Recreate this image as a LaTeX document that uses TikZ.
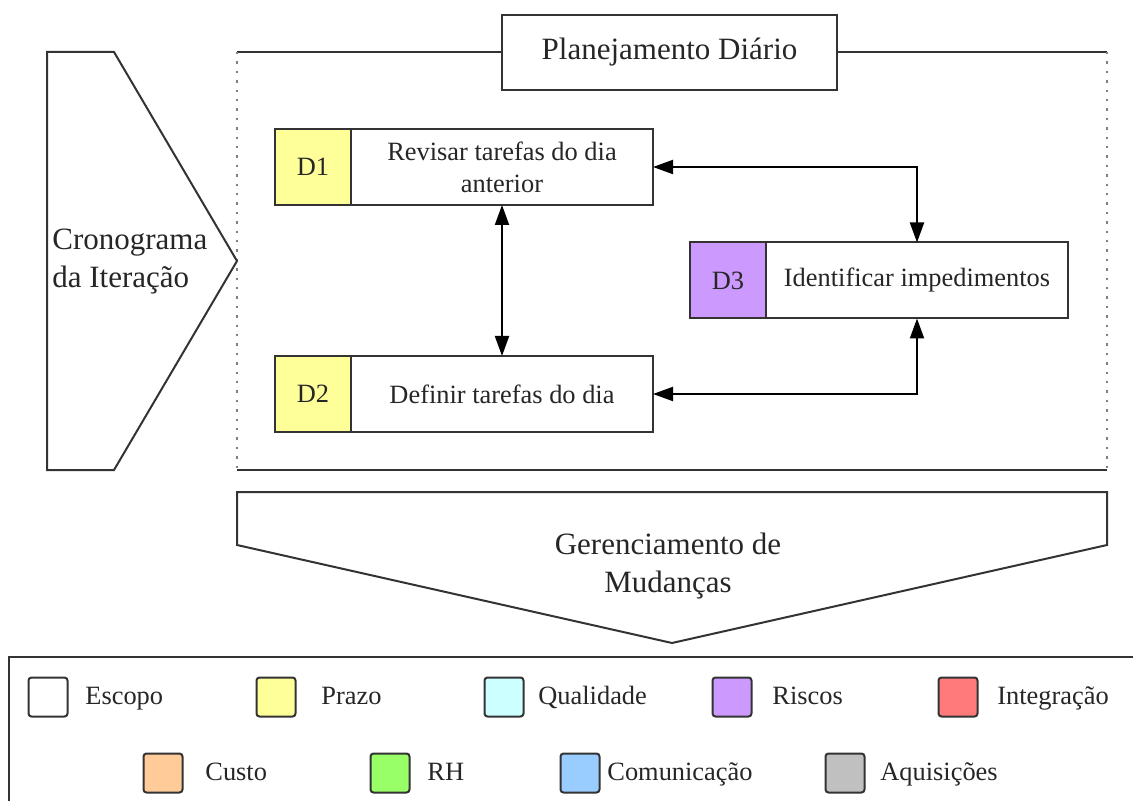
\documentclass[tikz,border=0pt]{standalone}
\usepackage{fontspec}
\setmainfont{Liberation Serif}
\usetikzlibrary{positioning, arrows.meta}

% area colours
\definecolor{linegray}{HTML}{333333}
\definecolor{textgray}{HTML}{262626}
\definecolor{escopo}{HTML}{FFFFFF}
\definecolor{prazo}{HTML}{FFFF99}
\definecolor{qualidade}{HTML}{CCFFFF}
\definecolor{riscos}{HTML}{CC99FF}
\definecolor{integracao}{HTML}{FF7A7A}
\definecolor{custo}{HTML}{FFCC99}
\definecolor{rh}{HTML}{99FF66}
\definecolor{comunicacao}{HTML}{99CCFF}
\definecolor{aquisicoes}{HTML}{C0C0C0}

\tikzset{
  diagram/.style={
	x=0.5pt, y=-0.5pt, % one unit per pixel, y grows downwards
	text=textgray,
	font=\fontsize{13.2}{16}\selectfont,
  },
  bigtext/.style={font=\fontsize{15.5}{19}\selectfont},
  frameline/.style={draw=linegray, line width=1pt},
  dotline/.style={draw=gray, line width=1.2pt, dash pattern=on 1.2pt off 3.5pt},
  titlebox/.style={draw=linegray, line width=1pt, fill=white, minimum width=167.5pt, minimum height=37.5pt},
  taskbox/.style={draw=linegray, line width=1pt, fill=white, align=center,
	minimum width=151pt, minimum height=38pt, outer sep=0pt},
  tagbox/.style={draw=linegray, line width=1pt, minimum width=38pt, minimum height=38pt,
	inner sep=0pt, outer sep=0pt},
  link/.style={{Triangle[length=10pt,width=7pt]}-{Triangle[length=10pt,width=7pt]}, % arrow on both ends
	draw=black, line width=1pt},
  legbox/.style={draw=linegray, line width=1pt, rounded corners=1.5pt, minimum size=19.5pt, inner sep=0pt},
  legtext/.style={anchor=base west, inner sep=0pt},
}

\begin{document}
\begin{tikzpicture}[diagram]
	  \useasboundingbox (0,0) rectangle (1133,801);
	  \clip (0,0) rectangle (1133,801);

	  % frame of the daily planning
	  \draw[frameline] (237,52) -- (1107,52);
	  \draw[frameline] (237,470) -- (1107,470);
	  \draw[dotline] (237,52) -- (237,470);
	  \draw[dotline] (1107,52) -- (1107,470);
	  \node[titlebox, bigtext] (plan) at (669.5,52.5) {Planejamento Diário};

	  % schedule input on the left
	  \draw[frameline] (47,52) -- (114,52) -- (237,261) -- (114,470) -- (47,470) -- cycle;
	  \node[bigtext, anchor=west, align=left, inner sep=0pt] (crono) at (52,262) {Cronograma\\da Iteração};

	  % change management output below
	  \draw[frameline] (237,492) -- (1107,492) -- (1107,545) -- (672,643) -- (237,545) -- cycle;
	  \node[bigtext, align=center] (mudancas) at (668,566) {Gerenciamento de\\Mudanças};

	  % tasks
	  \node[taskbox] (d1txt) at (502,167) {Revisar tarefas do dia\\anterior};
	  \node[tagbox, fill=prazo, left=0pt of d1txt] (d1) {D1};
	  \node[taskbox] (d2txt) at (502,394) {Definir tarefas do dia};
	  \node[tagbox, fill=prazo, left=0pt of d2txt] (d2) {D2};
	  \node[taskbox] (d3txt) at (917,280.5) {Identificar impedimentos};
	  \node[tagbox, fill=riscos, left=0pt of d3txt] (d3) {D3};

	  \draw[link] (d1txt) -- (d2txt);
	  \draw[link] (d1txt.east) -| (d3txt.north);
	  \draw[link] (d2txt.east) -| (d3txt.south);

	  % legend
	  \draw[frameline] (9,657) rectangle (1150,820);
	  \foreach \nm/\cx/\cy/\tx/\lbl in {
		  escopo/48/697/85/Escopo, prazo/276/697/321/Prazo,
		  qualidade/504/697/538/Qualidade, riscos/732/697/772/Riscos,
		  integracao/958/697/997/Integração,
		  custo/163/773/205/Custo, rh/390/773/427/RH,
		  comunicacao/580/773/607/Comunicação, aquisicoes/845/773/880/Aquisições} {
		\node[legbox, fill=\nm] (leg\nm) at (\cx,\cy) {};
		\node[legtext] (lbl\nm) at (\tx,\cy+7) {\lbl};
	  }
\end{tikzpicture}
\end{document}
